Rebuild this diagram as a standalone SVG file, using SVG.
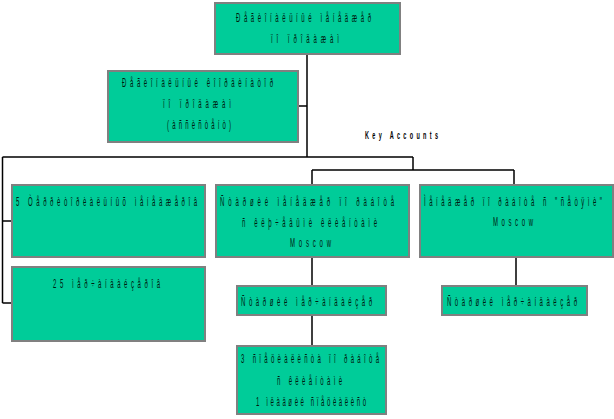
<svg xmlns="http://www.w3.org/2000/svg" width="614" height="419" viewBox="0 0 614 419">
<style>
.box{fill:#00CC99;stroke:#808080;stroke-width:2}
.ln{fill:none;stroke:#000;stroke-width:1.5}
text{font-family:"Liberation Sans",Arial,sans-serif;font-size:12px;fill:#001a10;text-anchor:middle}
.ka{font-weight:bold;font-size:11px;fill:#000}
</style>
<rect width="614" height="419" fill="#fff"/>
<g id="connectors">
<path class="ln" d="M307,54V157M298,106H307M2.5,157H413M413,157V170M312,170H514M312,170V185M514,170V185M2.5,157V303M2.5,221H12M2.5,303H12M312,257V286M312,315V346M516,257V286"/>
</g>
<g id="label-key-accounts"><text class="ka" transform="translate(401.5,139) scale(0.5,1)" textLength="146" lengthAdjust="spacing">Key Accounts</text></g>
<g id="n1">
<rect class="box" x="215" y="3" width="185" height="51"/>
<text transform="translate(303.5,22) scale(0.5,1)" textLength="270" lengthAdjust="spacing">Ðåãèîíàëüíûé ìåíåäæåð</text>
<text transform="translate(305,43) scale(0.5,1)" textLength="136" lengthAdjust="spacing">ïî ïðîäàæàì</text>
</g>
<g id="n2">
<rect class="box" x="108" y="71" width="190" height="71"/>
<text transform="translate(197.5,87) scale(0.5,1)" textLength="302" lengthAdjust="spacing">Ðåãèîíàëüíûé êîîðäèíàòîð</text>
<text transform="translate(197,108) scale(0.5,1)" textLength="136" lengthAdjust="spacing">ïî ïðîäàæàì</text>
<text transform="translate(199,129) scale(0.5,1)" textLength="128" lengthAdjust="spacing">(àññèñòåíò)</text>
</g>
<g id="n3">
<rect class="box" x="12" y="185" width="193" height="72"/>
<text transform="translate(106.5,206) scale(0.5,1)" textLength="362" lengthAdjust="spacing">5 Òåððèòîðèàëüíûõ ìåíåäæåðîâ</text>
</g>
<g id="n4">
<rect class="box" x="216" y="185" width="193" height="72"/>
<text transform="translate(307,206) scale(0.5,1)" textLength="348" lengthAdjust="spacing">Ñòàðøèé ìåíåäæåð ïî ðàáîòå</text>
<text transform="translate(309.5,227) scale(0.5,1)" textLength="270" lengthAdjust="spacing">ñ êëþ÷åâûìè êëèåíòàìè</text>
<text transform="translate(310.5,247) scale(0.5,1)" textLength="82" lengthAdjust="spacing">Moscow</text>
</g>
<g id="n5">
<rect class="box" x="420" y="185" width="193" height="72"/>
<text transform="translate(513,206) scale(0.5,1)" textLength="356" lengthAdjust="spacing">Ìåíåäæåð ïî ðàáîòå ñ "ñåòÿìè"</text>
<text transform="translate(513,226) scale(0.5,1)" textLength="80" lengthAdjust="spacing">Moscow</text>
</g>
<g id="n6">
<rect class="box" x="12" y="267" width="193" height="74"/>
<text transform="translate(106.5,288) scale(0.5,1)" textLength="214" lengthAdjust="spacing">25 ìåð÷àíäàéçåðîâ</text>
</g>
<g id="n7">
<rect class="box" x="237" y="286" width="149" height="29"/>
<text transform="translate(306.5,306) scale(0.5,1)" textLength="262" lengthAdjust="spacing">Ñòàðøèé ìåð÷àíäàéçåð</text>
</g>
<g id="n8">
<rect class="box" x="442" y="286" width="145" height="29"/>
<text transform="translate(512,306) scale(0.5,1)" textLength="260" lengthAdjust="spacing">Ñòàðøèé ìåð÷àíäàéçåð</text>
</g>
<g id="n9">
<rect class="box" x="237" y="346" width="149" height="68"/>
<text transform="translate(310,363) scale(0.5,1)" textLength="276" lengthAdjust="spacing">3 ñïåöèàëèñòà ïî ðàáîòå</text>
<text transform="translate(309.5,385) scale(0.5,1)" textLength="130" lengthAdjust="spacing">ñ êëèåíòàìè</text>
<text transform="translate(311,406) scale(0.5,1)" textLength="220" lengthAdjust="spacing">1 ìëàäøèé ñïåöèàëèñò</text>
</g>
</svg>
